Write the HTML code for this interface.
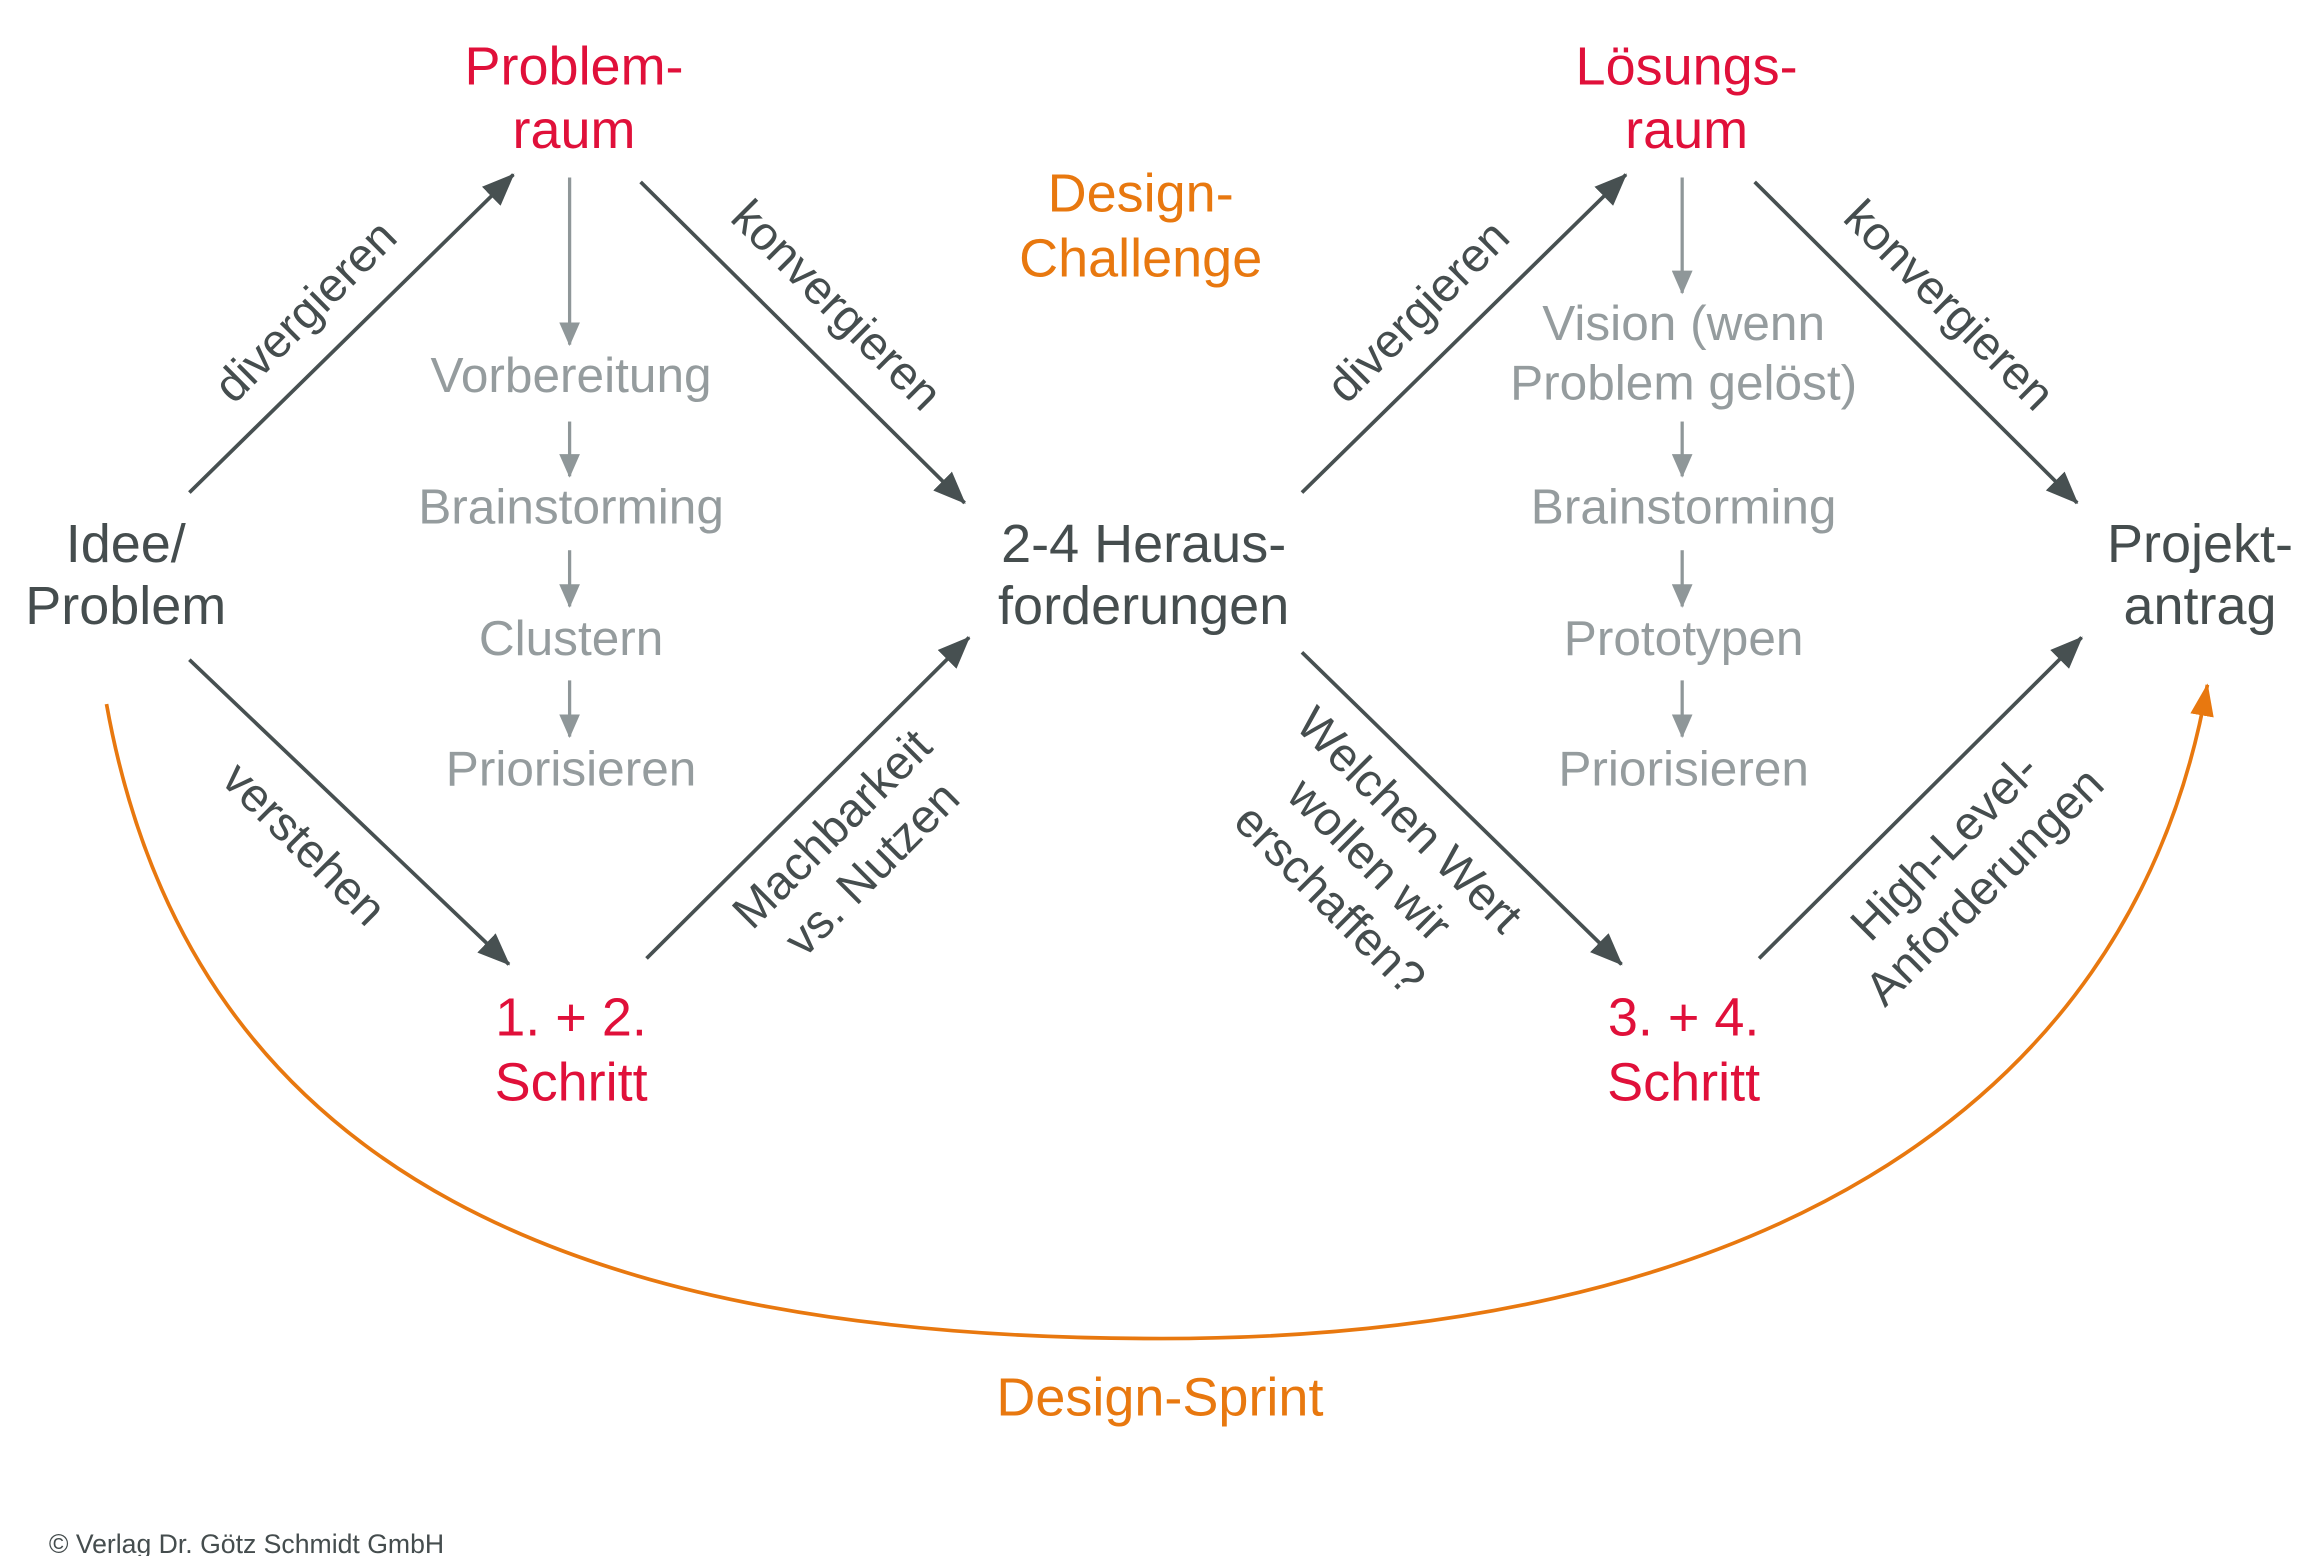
<!DOCTYPE html>
<html><head><meta charset="utf-8"><style>
html,body{margin:0;padding:0;background:#fff;}
svg{display:block;}
text{font-family:"Liberation Sans",sans-serif;}
</style></head><body>
<svg width="2308" height="1556" viewBox="0 0 1560 1052" preserveAspectRatio="none" xmlns="http://www.w3.org/2000/svg">
<defs>
<marker id="adk" markerWidth="22" markerHeight="18" refX="21" refY="9" orient="auto" markerUnits="userSpaceOnUse"><path d="M0,0 L22,9 L0,18 Z" fill="#475051"/></marker>
<marker id="ag" markerWidth="16" markerHeight="14" refX="15" refY="7" orient="auto" markerUnits="userSpaceOnUse"><path d="M0,0 L16,7 L0,14 Z" fill="#8f9799"/></marker>
<marker id="ao" markerWidth="22" markerHeight="16" refX="21" refY="8" orient="auto" markerUnits="userSpaceOnUse"><path d="M0,0 L22,8 L0,16 Z" fill="#e8780f"/></marker>
</defs>
<g stroke="#475051" stroke-width="2.5" fill="none" marker-end="url(#adk)">
<line x1="128" y1="333" x2="347" y2="118"/>
<line x1="433" y1="123" x2="652" y2="340"/>
<line x1="128" y1="446" x2="344" y2="652"/>
<line x1="437" y1="648" x2="655" y2="431"/>
<line x1="880" y1="333" x2="1099" y2="118"/>
<line x1="1186" y1="123" x2="1404" y2="340"/>
<line x1="880" y1="441" x2="1096" y2="652"/>
<line x1="1189" y1="648" x2="1407" y2="431"/>
</g>
<g stroke="#8f9799" stroke-width="2.2" fill="none" marker-end="url(#ag)">
<line x1="385" y1="120" x2="385" y2="233"/>
<line x1="385" y1="285" x2="385" y2="322"/>
<line x1="385" y1="372" x2="385" y2="410"/>
<line x1="385" y1="460" x2="385" y2="498"/>
<line x1="1137" y1="120" x2="1137" y2="198"/>
<line x1="1137" y1="285" x2="1137" y2="322"/>
<line x1="1137" y1="372" x2="1137" y2="410"/>
<line x1="1137" y1="460" x2="1137" y2="498"/>
</g>
<path d="M72,476 C130,800 400,905 785,905 C1170,905 1440,760 1492,463" stroke="#e8780f" stroke-width="2.5" fill="none" marker-end="url(#ao)"/>
<g font-size="36.5" text-anchor="middle">
<g fill="#e0103a">
<text x="388" y="57">Problem-</text><text x="388" y="100">raum</text>
<text x="1140" y="57">Lösungs-</text><text x="1140" y="100">raum</text>
<text x="386" y="700">1. + 2.</text><text x="386" y="744">Schritt</text>
<text x="1138" y="700">3. + 4.</text><text x="1138" y="744">Schritt</text>
</g>
<g fill="#e8780f">
<text x="771" y="143">Design-</text><text x="771" y="187">Challenge</text>
<text x="784" y="957">Design-Sprint</text>
</g>
<g fill="#454d4e">
<text x="85" y="380">Idee/</text><text x="85" y="422">Problem</text>
<text x="773" y="380">2-4 Heraus-</text><text x="773" y="422">forderungen</text>
<text x="1487" y="380">Projekt-</text><text x="1487" y="422">antrag</text>
</g>
</g>
<g font-size="33.5" text-anchor="middle" fill="#959c9e">
<text x="386" y="265">Vorbereitung</text>
<text x="386" y="354">Brainstorming</text>
<text x="386" y="443">Clustern</text>
<text x="386" y="531">Priorisieren</text>
<text x="1138" y="230">Vision (wenn</text>
<text x="1138" y="270">Problem gelöst)</text>
<text x="1138" y="354">Brainstorming</text>
<text x="1138" y="443">Prototypen</text>
<text x="1138" y="531">Priorisieren</text>
</g>
<g font-size="32" text-anchor="middle" fill="#454d4e">
<text transform="translate(214,218) rotate(-45)">divergieren</text>
<text transform="translate(558,214) rotate(45)">konvergieren</text>
<text transform="translate(198,578) rotate(45)">verstehen</text>
<text transform="translate(570,568) rotate(-45)"><tspan x="0" y="0">Machbarkeit</tspan><tspan x="0" y="38">vs. Nutzen</tspan></text>
<text transform="translate(966,218) rotate(-45)">divergieren</text>
<text transform="translate(1310,214) rotate(45)">konvergieren</text>
<text transform="translate(945,562) rotate(45)"><tspan x="0" y="0">Welchen Wert</tspan><tspan x="0" y="38">wollen wir</tspan><tspan x="0" y="76">erschaffen?</tspan></text>
<text transform="translate(1322,580) rotate(-45)"><tspan x="0" y="0">High-Level-</tspan><tspan x="0" y="38">Anforderungen</tspan></text>
</g>
<text x="33" y="1050" font-size="18" fill="#454d4e">© Verlag Dr. Götz Schmidt GmbH</text>
</svg>
</body></html>
